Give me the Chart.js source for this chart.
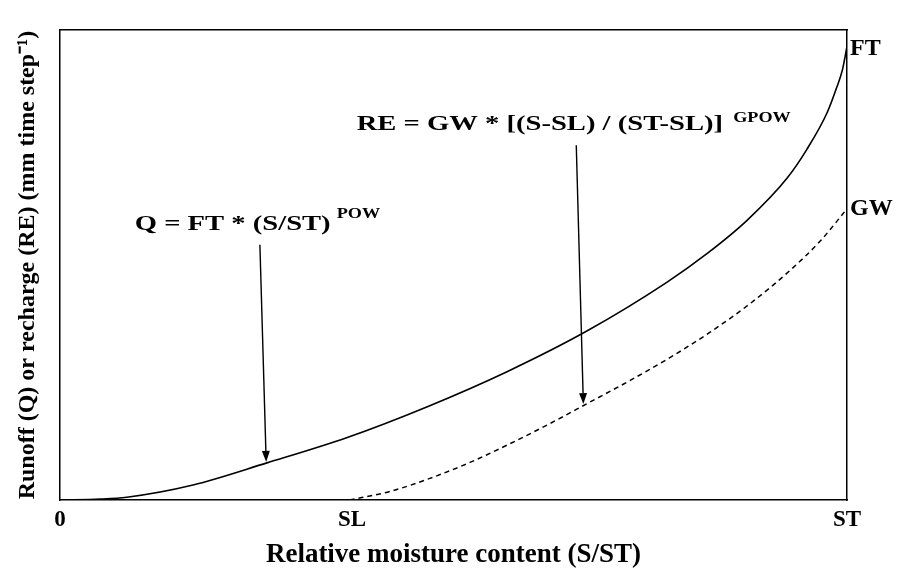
<!DOCTYPE html>
<html>
<head>
<meta charset="utf-8">
<script src="https://cdn.jsdelivr.net/npm/chart.js@4.4.0/dist/chart.umd.min.js"></script>
<style>
  html, body { margin: 0; padding: 0; background: #ffffff; }
  #wrap { width: 897px; height: 571px; }
</style>
</head>
<body>
<div id="wrap"><canvas id="c" width="897" height="571"></canvas></div>
<script>
// Relative moisture content (S/ST) and runoff Q (fraction of axis height)
const moistureQ = [0, 0.051, 0.085, 0.169, 0.263, 0.365, 0.466, 0.568, 0.670, 0.771, 0.822, 0.873, 0.924, 0.949, 0.975, 0.987, 0.994, 1.0];
const runoffQ   = [0, 0.002, 0.006, 0.032, 0.079, 0.133, 0.198, 0.273, 0.360, 0.463, 0.524, 0.595, 0.685, 0.746, 0.825, 0.878, 0.914, 0.965];
// Recharge RE, starting at SL
const moistureRE = [0.368, 0.419, 0.470, 0.521, 0.572, 0.623, 0.673, 0.724, 0.775, 0.826, 0.877, 0.928, 0.966, 0.991, 1.0];
const rechargeRE = [0.0, 0.018, 0.046, 0.080, 0.120, 0.163, 0.208, 0.254, 0.303, 0.357, 0.418, 0.489, 0.551, 0.601, 0.620];
// Axis tick positions and labels
const xTickValues = [0, 0.371, 1];
const xTickLabels = ['0', 'SL', 'ST'];
const yTickValues = [0.62, 0.96];
const yTickLabels = ['GW', 'FT'];

const serif = '"Liberation Serif", "Times New Roman", serif';

const annotations = [
  { text: 'Q = FT * (S/ST)', sup: 'POW', x: 0.095, y: 0.574, supGap: 6, supRise: 12 },
  { text: 'RE = GW * [(S-SL) / (ST-SL)]', sup: 'GPOW', x: 0.377, y: 0.787, supGap: 10, supRise: 8 }
];
const arrows = [
  { x0: 0.254, y0: 0.543, x1: 0.262, y1: 0.081 },
  { x0: 0.656, y0: 0.755, x1: 0.665, y1: 0.204 }
];

const annotatePlugin = {
  id: 'annotate',
  afterDatasetsDraw(chart) {
    const ctx = chart.ctx;
    const xs = chart.scales.x, ys = chart.scales.y;
    const sx = 1.3;
    ctx.save();
    ctx.fillStyle = '#000';
    ctx.strokeStyle = '#000';
    annotations.forEach(a => {
      const px = xs.getPixelForValue(a.x), py = ys.getPixelForValue(a.y);
      ctx.save();
      ctx.translate(px, py);
      ctx.scale(sx, 1);
      ctx.font = 'bold 22px ' + serif;
      ctx.textBaseline = 'alphabetic';
      ctx.textAlign = 'left';
      ctx.fillText(a.text, 0, 0);
      const w = ctx.measureText(a.text).width;
      ctx.font = 'bold 14px ' + serif;
      ctx.fillText(a.sup, w + a.supGap / sx, -a.supRise);
      ctx.restore();
    });
    arrows.forEach(a => {
      const x0 = xs.getPixelForValue(a.x0), y0 = ys.getPixelForValue(a.y0);
      const x1 = xs.getPixelForValue(a.x1), y1 = ys.getPixelForValue(a.y1);
      const ang = Math.atan2(y1 - y0, x1 - x0);
      const len = 11, half = 4;
      const bx = x1 - len * Math.cos(ang), by = y1 - len * Math.sin(ang);
      ctx.lineWidth = 1.4;
      ctx.beginPath();
      ctx.moveTo(x0, y0);
      ctx.lineTo(bx, by);
      ctx.stroke();
      ctx.beginPath();
      ctx.moveTo(x1, y1);
      ctx.lineTo(bx + half * Math.sin(ang), by - half * Math.cos(ang));
      ctx.lineTo(bx - half * Math.sin(ang), by + half * Math.cos(ang));
      ctx.closePath();
      ctx.fill();
    });
    ctx.restore();
  }
};

new Chart(document.getElementById('c'), {
  type: 'scatter',
  data: {
    datasets: [
      {
        label: 'Q',
        data: moistureQ.map((v, i) => ({ x: v, y: runoffQ[i] })),
        showLine: true, borderColor: '#000', borderWidth: 1.6,
        pointRadius: 0, cubicInterpolationMode: 'monotone', fill: false
      },
      {
        label: 'RE',
        data: moistureRE.map((v, i) => ({ x: v, y: rechargeRE[i] })),
        showLine: true, borderColor: '#000', borderWidth: 1.5, borderDash: [5, 4],
        pointRadius: 0, cubicInterpolationMode: 'monotone', fill: false
      }
    ]
  },
  options: {
    responsive: false,
    animation: false,
    layout: { padding: 0 },
    plugins: { legend: { display: false }, tooltip: { enabled: false } },
    scales: {
      x: {
        type: 'linear', position: 'bottom', min: 0, max: 1,
        grid: { display: false, drawTicks: false },
        border: { display: true, color: '#000', width: 1.5 },
        afterBuildTicks: s => { s.ticks = xTickValues.map(v => ({ value: v })); },
        afterFit: s => { s.height = 71; },
        ticks: {
          autoSkip: false, maxRotation: 0, padding: 6, color: '#000',
          font: { family: serif, size: 23, weight: 'bold' },
          callback: (v, i) => xTickLabels[i]
        },
        title: {
          display: true, text: 'Relative moisture content (S/ST)', color: '#000',
          font: { family: serif, size: 27, weight: 'bold' }, padding: { top: 0, bottom: 0 }
        }
      },
      xTop: {
        type: 'linear', position: 'top', min: 0, max: 1,
        grid: { display: false, drawTicks: false },
        border: { display: true, color: '#000', width: 1.5 },
        ticks: { display: false },
        afterFit: s => { s.height = 30; }
      },
      y: {
        type: 'linear', position: 'left', min: 0, max: 1,
        grid: { display: false, drawTicks: false },
        border: { display: true, color: '#000', width: 1.5 },
        ticks: { display: false },
        afterFit: s => { s.width = 60; },
        title: {
          display: true, text: 'Runoff (Q) or recharge (RE) (mm time step\u207B\u00B9)', color: '#000',
          font: { family: serif, size: 24, weight: 'bold' }, padding: { top: 13, bottom: 0 }
        }
      },
      yRight: {
        type: 'linear', position: 'right', min: 0, max: 1,
        grid: { display: false, drawTicks: false },
        border: { display: true, color: '#000', width: 1.5 },
        afterBuildTicks: s => { s.ticks = yTickValues.map(v => ({ value: v })); },
        afterFit: s => { s.width = 50; },
        ticks: {
          autoSkip: false, padding: 3, color: '#000',
          font: { family: serif, size: 24, weight: 'bold' },
          callback: (v, i) => yTickLabels[i]
        }
      }
    }
  },
  plugins: [annotatePlugin]
});
</script>
</body>
</html>
